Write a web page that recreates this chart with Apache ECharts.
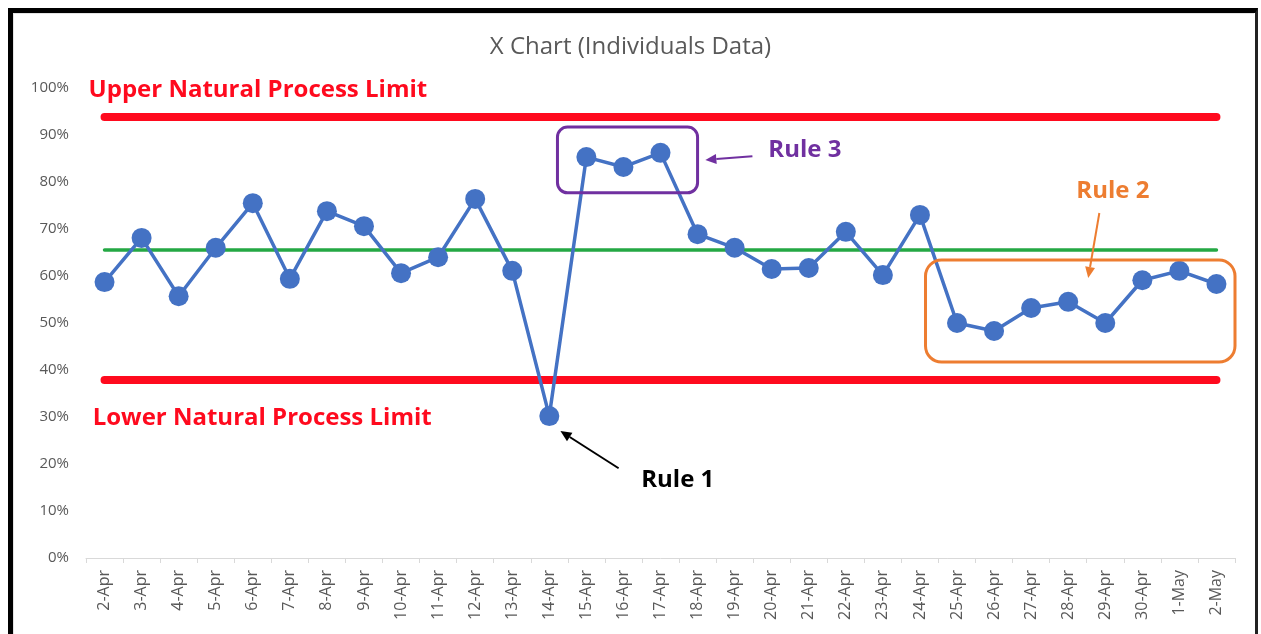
<!DOCTYPE html>
<html><head><meta charset="utf-8">
<script src="https://cdn.jsdelivr.net/npm/echarts@6/dist/echarts.min.js"></script>
<style>
html,body{margin:0;padding:0;background:#fff;}
#chart{position:absolute;left:0;top:0;width:1261px;height:634px;}
#frame{position:absolute;left:8px;top:8px;width:1242px;height:660px;border-left:5px solid #000;border-top:5px solid #000;border-right:3px solid #222;pointer-events:none;}
#inner{position:absolute;left:13px;top:13px;width:1240px;height:660px;border-left:1px solid #e3e3e3;border-top:1px solid #e3e3e3;pointer-events:none;}
</style></head><body>
<div id="chart"></div><div id="inner"></div><div id="frame"></div>
<script>
const categories = ['2-Apr','3-Apr','4-Apr','5-Apr','6-Apr','7-Apr','8-Apr','9-Apr','10-Apr','11-Apr','12-Apr','13-Apr','14-Apr','15-Apr','16-Apr','17-Apr','18-Apr','19-Apr','20-Apr','21-Apr','22-Apr','23-Apr','24-Apr','25-Apr','26-Apr','27-Apr','28-Apr','29-Apr','30-Apr','1-May','2-May'];
const values = [58.7,68.1,55.7,66.0,75.5,59.4,73.8,70.6,60.6,64.0,76.4,61.1,30.2,85.3,83.2,86.2,68.9,66.0,61.5,61.7,69.4,60.2,73.0,50.0,48.3,53.2,54.5,50.0,59.1,61.1,58.3];
const centralLine = 65.5;
const upperLimit = 93.8;
const lowerLimit = 37.9;
const yTicks = [0,10,20,30,40,50,60,70,80,90,100];

const chart = echarts.init(document.getElementById('chart'));
const FONT = '"Open Sans", sans-serif';
const last = categories.length - 1;

function limitLine(v, color, w) {
  return [{coord: [0, v], lineStyle: {color: color, width: w, type: 'solid', cap: 'round'}}, {coord: [last, v]}];
}

chart.setOption({
  animation: false,
  title: {text: 'X Chart (Individuals Data)', left: 'center', top: 30,
    textStyle: {fontFamily: FONT, fontSize: 24, fontWeight: 'normal', color: '#595959'}},
  grid: {left: 86, right: 26, top: 88, bottom: 76},
  xAxis: {type: 'category', data: categories, boundaryGap: true,
    axisLine: {lineStyle: {color: '#d9d9d9', width: 1}},
    axisTick: {show: true, length: 5, lineStyle: {color: '#d9d9d9'}},
    axisLabel: {rotate: 90, margin: 12, color: '#595959', fontSize: 16, fontFamily: FONT, interval: 0}},
  yAxis: {type: 'value', min: yTicks[0], max: yTicks[yTicks.length-1], interval: 10,
    axisLine: {show: false}, axisTick: {show: false}, splitLine: {show: false},
    axisLabel: {formatter: '{value}%', color: '#595959', fontSize: 15, fontFamily: FONT, margin: 17}},
  series: [
    {type: 'line', data: [], silent: true, z: 1,
      markLine: {silent: true, symbol: 'none', label: {show: false},
        data: [limitLine(upperLimit, '#FF0A1E', 8), limitLine(lowerLimit, '#FF0A1E', 8), limitLine(centralLine, '#24A844', 3.5)]}},
    {type: 'line', data: values, z: 5, symbol: 'circle', symbolSize: 20,
      lineStyle: {color: '#4472C4', width: 3.5}, itemStyle: {color: '#4472C4'}}
  ]
});

// annotation positions in data space (category index, value)
const ann = {
  upperText: [-0.43, 99.6], lowerText: [-0.32, 29.8],
  rule1Text: [14.48, 16.6], rule1Arrow: [[13.87, 19.1], [12.30, 27.0]],
  rule3Text: [17.91, 86.8], rule3Arrow: [[17.48, 85.5], [16.21, 84.7]], rule3Box: [[12.22, 91.7], [16.0, 77.7]],
  rule2Text: [26.22, 78.1], rule2Arrow: [[26.84, 73.4], [26.54, 59.6]], rule2Box: [[22.15, 63.4], [30.5, 41.7]]
};

const a0 = chart.convertToPixel({gridIndex: 0}, [0, 0]);
const a1 = chart.convertToPixel({gridIndex: 0}, [1, 100]);
function px(p) { return [a0[0] + p[0] * (a1[0] - a0[0]), a0[1] + p[1] / 100 * (a1[1] - a0[1])]; }

function text(p, str, color) {
  const q = px(p);
  return {type: 'text', z: 10, style: {text: str, x: q[0], y: q[1], fill: color,
    font: 'bold 24px ' + FONT, textAlign: 'left', textVerticalAlign: 'middle'}};
}
function box(b, color, r) {
  const p = px(b[0]), q = px(b[1]);
  return {type: 'rect', z: 10, shape: {x: p[0], y: p[1], width: q[0]-p[0], height: q[1]-p[1], r: r},
    style: {fill: 'none', stroke: color, lineWidth: 3}};
}
function arrow(a, color, w) {
  const t = px(a[0]), h = px(a[1]);
  const dx = h[0]-t[0], dy = h[1]-t[1], L = Math.hypot(dx, dy);
  const ux = dx/L, uy = dy/L, hl = 11, hw = 5;
  const bx = h[0]-ux*hl, by = h[1]-uy*hl;
  return [
    {type: 'line', z: 10, shape: {x1: t[0], y1: t[1], x2: bx, y2: by}, style: {stroke: color, lineWidth: w}},
    {type: 'polygon', z: 10, shape: {points: [[h[0], h[1]], [bx - uy*hw, by + ux*hw], [bx + uy*hw, by - ux*hw]]}, style: {fill: color}}
  ];
}

chart.setOption({graphic: [
  text(ann.upperText, 'Upper Natural Process Limit', '#FF0A1E'),
  text(ann.lowerText, 'Lower Natural Process Limit', '#FF0A1E'),
  text(ann.rule1Text, 'Rule 1', '#000000'),
  text(ann.rule3Text, 'Rule 3', '#7030A0'),
  text(ann.rule2Text, 'Rule 2', '#ED7D31'),
  box(ann.rule3Box, '#7030A0', 10),
  box(ann.rule2Box, '#ED7D31', 16),
  ...arrow(ann.rule1Arrow, '#000000', 2),
  ...arrow(ann.rule3Arrow, '#7030A0', 2),
  ...arrow(ann.rule2Arrow, '#ED7D31', 2)
]});
</script></body></html>
